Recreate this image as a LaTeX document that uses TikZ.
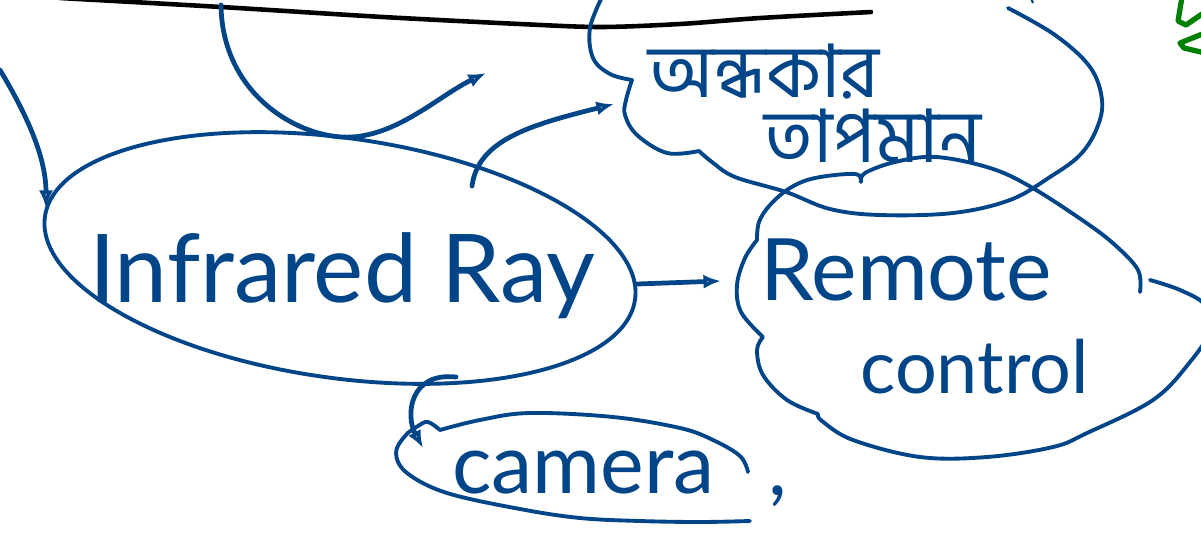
\documentclass[tikz,border=0pt]{standalone}
\usepackage{fontspec}
\setmainfont{Lato}
\newfontfamily\bnfont[Script=Bengali]{Hind Siliguri}
\usetikzlibrary{arrows.meta,shapes.geometric}
\definecolor{ink}{RGB}{0,69,135}
\definecolor{greenink}{RGB}{0,128,0}

\begin{document}
\begin{tikzpicture}[x=0.02cm,y=-0.02cm,
  outline/.style={draw=ink,line width=2.2pt,line cap=round,line join=round},
  link/.style={draw=ink,line width=2.7pt,line cap=round,line join=round},
  tiphead/.style={-{Latex[open,length=10pt,width=8pt,line width=2pt]}},
  handtext/.style={text=ink,inner sep=0pt},
  cloudtext/.style={text=ink,inner sep=0pt,font=\bnfont\fontsize{42}{48}\selectfont}]

\clip (0,0) rectangle (1201,532);
\fill[white] (0,0) rectangle (1201,532);

% black ruling across the top
\draw[black,line width=2.6pt,line cap=round]
  plot[smooth] coordinates {(60,-2) (221,7) (383,17) (520,24) (600,27) (680,24) (760,18) (871,12)};

% green stroke in the corner
\draw[greenink,line width=3pt,line cap=round,line join=round]
  (1182,-3) -- (1178,21) -- (1186,25) -- (1205,12);
\draw[greenink,line width=3pt,line cap=round,line join=round]
  (1205,33) -- (1180,43) -- (1184,48) -- (1205,53);
\draw[ink,line width=1.2pt] (1031,-2) -- (1033,3);

% main ellipse
\node (ir) [ellipse,draw=ink,line width=2.2pt,minimum width=11.92cm,minimum height=4.8cm,
  inner sep=0pt,rotate=-8] at (340,258) {};
\node (irtext) [handtext,anchor=base,font=\fontsize{54}{60}\selectfont] at (342,302) {Infrared Ray};

% cloud with the Bengali label
\coordinate (bn) at (850,100);
\draw[outline] plot[smooth,tension=0.6] coordinates {(603,-5) (590,28) (593,58) (610,74) (632,80)}
  -- plot[smooth,tension=0.6] coordinates {(632,80) (626,100) (625,115) (637,135) (667,153) (699,151)}
  -- plot[smooth,tension=0.6] coordinates {(699,151) (712,162) (735,177) (786,192) (830,209) (880,215)
     (953,213) (1010,200) (1050,177) (1080,155) (1097,128) (1102,100) (1090,67) (1055,35) (1008,8)};
\node (bnA) [cloudtext,anchor=base west] at (648,97) {অন্ধকার};
\node (bnB) [cloudtext,anchor=base west] at (764,162) {তাপমান};

% cloud with "Remote control"
\coordinate (rc) at (960,330);
\draw[outline] plot[smooth,tension=0.6] coordinates {(1140,292) (1138,270) (1115,245) (1085,222) (1031,187)
     (990,168) (936,157) (895,162) (865,173) (861,182)}
  -- plot[smooth,tension=0.6] coordinates {(861,182) (855,174) (815,178) (790,188) (770,205) (759,222) (757,240)}
  -- plot[smooth,tension=0.6] coordinates {(757,240) (745,258) (737,285) (741,312) (763,337)}
  -- plot[smooth,tension=0.6] coordinates {(763,337) (757,350) (763,375) (787,400) (818,414)}
  -- plot[smooth,tension=0.6] coordinates {(818,414) (822,421) (853,440) (920,457) (987,457) (1053,447)
     (1087,433) (1153,400) (1190,362) (1210,330) (1205,305) (1180,290) (1150,280)};
\node (rcA) [handtext,anchor=base west,font=\fontsize{49}{54}\selectfont] at (760,300) {Remote};
\node (rcB) [handtext,anchor=base west,font=\fontsize{42}{48}\selectfont] at (860,393) {control};

% rounded outline with "camera"
\coordinate (cam) at (575,470);
\draw[outline] plot[smooth,tension=0.6] coordinates {(750,521) (700,522) (640,521) (580,518) (520,509)
     (447,493) (407,473) (396,453) (405,436) (418,426) (428,422) (440,430)}
  -- plot[smooth,tension=0.6] coordinates {(440,430) (480,420) (530,413) (613,417) (680,428) (713,440)
     (740,456) (748,472)};
\node (camtext) [handtext,anchor=base west,font=\fontsize{47}{54}\selectfont] at (452,493) {camera};
\node (comma) [handtext,anchor=base,font=\fontsize{47}{54}\selectfont] at (778,495) {,};

% connector end points
\coordinate (leftIn) at (0,70);
\coordinate (irW) at (46,208);
\coordinate (uStart) at (221,5);
\coordinate (uEnd) at (486,73);
\coordinate (irN) at (472,186);
\coordinate (bnW) at (614,104);
\coordinate (irE) at (637,284);
\coordinate (rcW) at (721,281);
\coordinate (irS) at (456,377);
\coordinate (camN) at (423,448);

% connectors
\draw[link,tiphead] (leftIn) .. controls (30,120) and (46,160) .. (irW);
\draw[link,tiphead] (uStart) .. controls (222,95) and (300,140) .. (352,137)
  .. controls (400,134) and (440,95) .. (uEnd);
\draw[link,tiphead] (irN) .. controls (478,140) and (530,125) .. (bnW);
\draw[link,tiphead] (irE) -- (rcW);
\draw[link,tiphead] (irS) .. controls (410,372) and (405,415) .. (camN);

\end{tikzpicture}
\end{document}
